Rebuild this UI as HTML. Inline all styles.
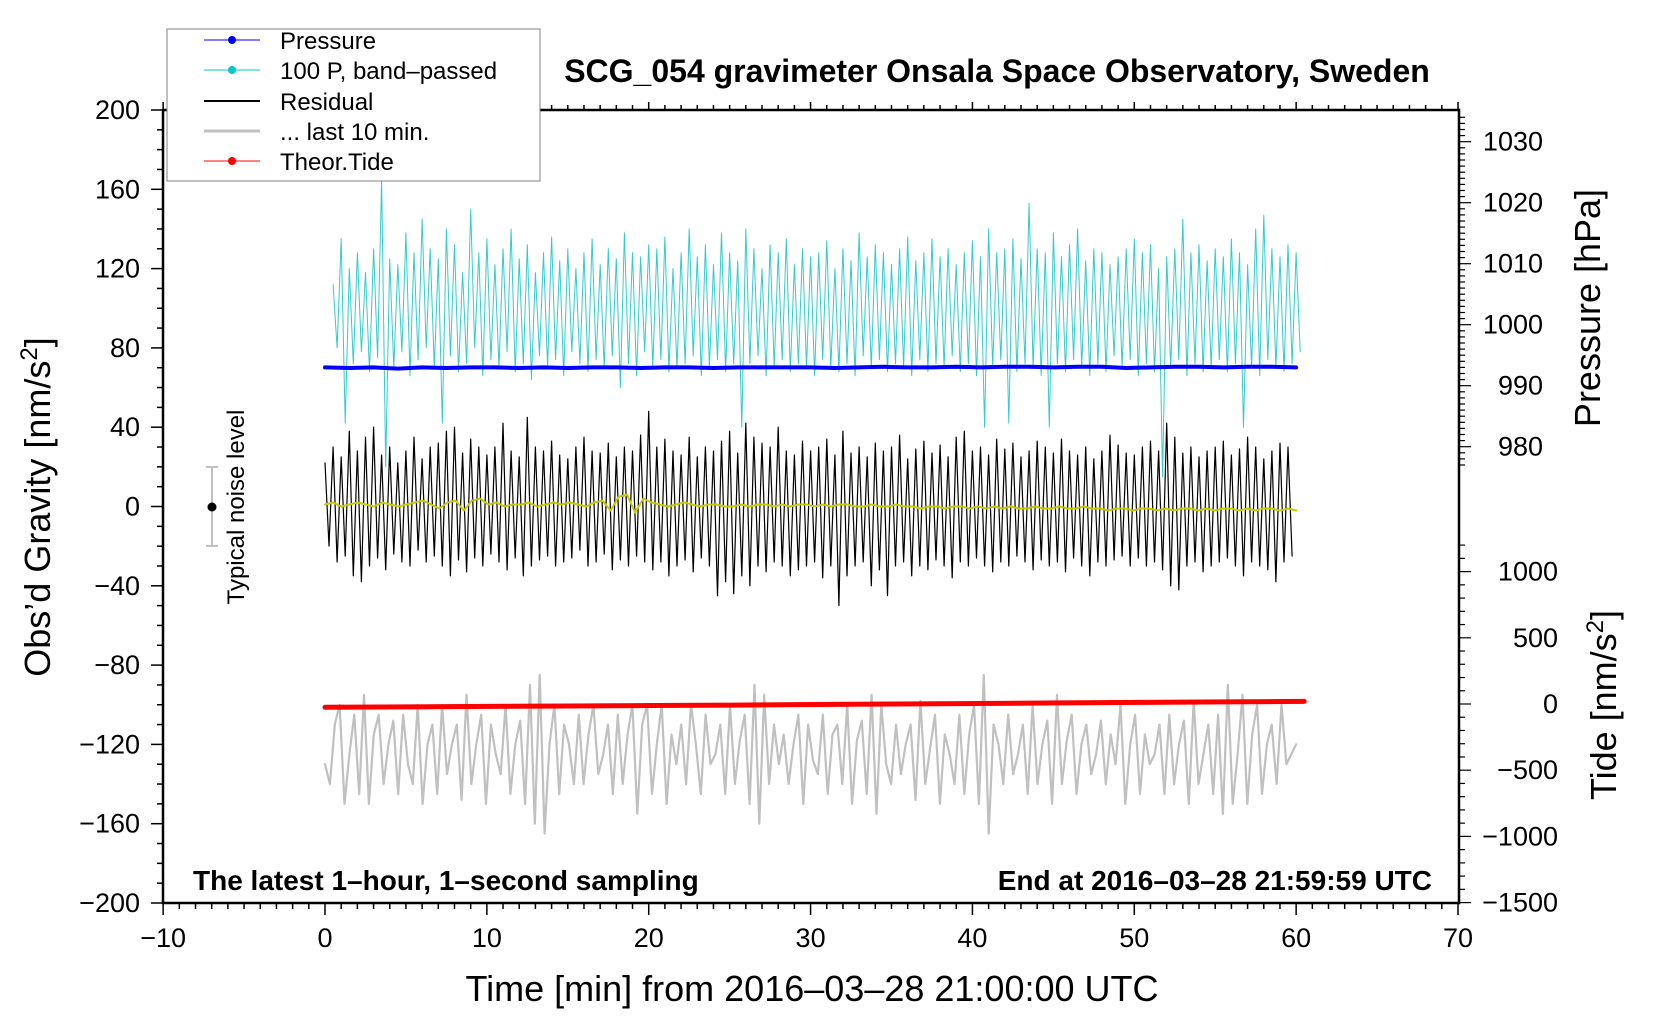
<!DOCTYPE html>
<html><head><meta charset="utf-8"><style>
html,body{margin:0;padding:0;background:#fff;}
svg{display:block;font-family:"Liberation Sans",Arial,sans-serif;}
</style></head><body>
<svg id="chart" width="1660" height="1020" viewBox="0 0 1660 1020" xmlns="http://www.w3.org/2000/svg">
<rect x="0" y="0" width="1660" height="1020" fill="#fff"/>
<g id="axes"></g>
<g id="series"></g>
<text x="997" y="82" font-size="32" font-weight="bold" text-anchor="middle">SCG_054 gravimeter Onsala Space Observatory, Sweden</text>
<text x="193" y="890" font-size="28" font-weight="bold">The latest 1–hour, 1–second sampling</text>
<text x="1432" y="890" font-size="28" font-weight="bold" text-anchor="end">End at 2016–03–28 21:59:59 UTC</text>
<text x="812" y="1001" font-size="36" text-anchor="middle">Time [min] from 2016–03–28 21:00:00 UTC</text>
<text transform="translate(50,507) rotate(-90)" font-size="36" text-anchor="middle">Obs’d Gravity [nm/s<tspan font-size="24" dy="-13">2</tspan><tspan dy="13">]</tspan></text>
<text transform="translate(1600,308) rotate(-90)" font-size="36" text-anchor="middle">Pressure [hPa]</text>
<text transform="translate(1616,705) rotate(-90)" font-size="36" text-anchor="middle">Tide [nm/s<tspan font-size="24" dy="-13">2</tspan><tspan dy="13">]</tspan></text>
<g>
<line x1="212" y1="467" x2="212" y2="546" stroke="#c0c0c0" stroke-width="2"/>
<line x1="206" y1="467" x2="218" y2="467" stroke="#c0c0c0" stroke-width="2"/>
<line x1="206" y1="546" x2="218" y2="546" stroke="#c0c0c0" stroke-width="2"/>
<circle cx="212" cy="507" r="4.5" fill="#000"/>
<text transform="translate(244,507) rotate(-90)" font-size="24" text-anchor="middle">Typical noise level</text>
</g>
<g>
<rect x="167" y="29" width="373" height="152" fill="#fff" stroke="#808080" stroke-width="1"/>
<g><line x1="204" y1="40" x2="260" y2="40" stroke="#0000ff" stroke-width="1"/><circle cx="232" cy="40" r="4" fill="#0000ff"/><text x="280" y="49" font-size="24">Pressure</text></g>
<g><line x1="204" y1="70" x2="260" y2="70" stroke="#00c8c8" stroke-width="1"/><circle cx="232" cy="70" r="4" fill="#00c8c8"/><text x="280" y="79" font-size="24">100 P, band–passed</text></g>
<g><line x1="204" y1="101" x2="260" y2="101" stroke="#000" stroke-width="2"/><text x="280" y="110" font-size="24">Residual</text></g>
<g><line x1="204" y1="131" x2="260" y2="131" stroke="#c0c0c0" stroke-width="3"/><text x="280" y="140" font-size="24">... last 10 min.</text></g>
<g><line x1="204" y1="161" x2="260" y2="161" stroke="#ff0000" stroke-width="1"/><circle cx="232" cy="161" r="4" fill="#ff0000"/><text x="280" y="170" font-size="24">Theor.Tide</text></g>
</g>
</svg>
<script>
const xTicks=[-10,0,10,20,30,40,50,60,70];
const gTicks=[200,160,120,80,40,0,-40,-80,-120,-160,-200];
const pTicks=[1030,1020,1010,1000,990,980];
const tTicks=[1000,500,0,-500,-1000,-1500];
const resHi=[22,30,25,38,28,35,40,26,30,22,28,35,24,30,32,38,40,27,34,30,26,30,42,28,25,45,30,28,33,26,24,30,35,28,27,32,25,30,28,36,48,30,34,28,26,35,25,30,28,33,38,27,42,35,32,30,40,28,26,33,28,30,34,26,38,27,30,25,32,28,30,36,24,29,33,27,31,25,35,38,28,30,26,34,29,32,25,28,33,30,27,34,28,26,30,24,28,36,31,27,26,30,33,28,42,35,27,30,25,28,30,33,26,29,35,30,24,28,32,30];
const resLo=[-20,-28,-25,-35,-38,-30,-26,-32,-24,-28,-30,-22,-28,-25,-30,-35,-27,-33,-26,-30,-24,-28,-32,-26,-35,-30,-27,-25,-30,-28,-26,-22,-30,-28,-24,-32,-27,-30,-25,-28,-32,-28,-35,-30,-27,-33,-26,-30,-45,-38,-44,-35,-40,-30,-33,-28,-30,-35,-32,-30,-28,-36,-30,-50,-35,-30,-28,-40,-32,-45,-30,-28,-35,-30,-32,-27,-30,-36,-28,-30,-26,-30,-33,-28,-30,-25,-28,-32,-27,-30,-28,-33,-26,-30,-35,-28,-30,-27,-25,-30,-26,-30,-28,-32,-40,-42,-30,-28,-33,-30,-28,-26,-30,-35,-28,-30,-32,-38,-28,-25];
const cyanHi=[112,135,120,128,118,130,165,125,122,138,128,145,130,125,140,132,118,150,128,135,122,130,140,125,132,118,128,136,124,130,120,128,135,122,130,125,138,128,126,132,130,136,120,128,140,126,132,122,138,128,124,140,130,120,132,128,135,122,130,126,128,134,120,130,124,138,126,132,128,122,130,136,124,128,135,126,130,122,128,134,126,140,128,130,135,125,153,130,128,138,126,132,140,124,130,128,122,126,130,135,128,132,120,126,130,145,128,132,124,130,126,135,128,122,140,147,130,126,132,128];
const cyanLo=[80,42,72,78,68,75,20,70,78,66,74,80,70,42,76,68,72,80,66,74,70,78,68,72,64,76,70,74,66,78,72,68,74,70,76,60,72,66,78,70,74,68,70,72,76,66,70,74,68,72,40,72,76,66,70,74,68,72,70,66,74,70,68,72,66,76,70,74,68,72,70,66,74,68,72,70,76,68,72,66,40,70,74,42,68,72,70,66,40,72,68,74,70,66,72,68,76,70,74,66,72,68,15,70,74,66,72,68,70,74,68,72,40,70,66,74,70,68,72,78];
const gray=[-130,-140,-110,-100,-150,-125,-105,-145,-95,-150,-115,-105,-140,-120,-108,-145,-105,-130,-140,-100,-150,-120,-110,-145,-100,-135,-120,-110,-148,-95,-140,-120,-105,-150,-110,-125,-135,-100,-145,-120,-108,-150,-90,-160,-85,-165,-120,-100,-145,-110,-120,-140,-105,-140,-115,-100,-135,-125,-110,-145,-105,-140,-115,-100,-155,-110,-100,-145,-120,-100,-150,-115,-130,-110,-140,-100,-120,-145,-105,-130,-125,-110,-145,-100,-140,-118,-105,-150,-90,-160,-95,-140,-110,-130,-115,-140,-120,-105,-150,-110,-128,-135,-105,-145,-115,-110,-140,-100,-150,-118,-108,-145,-95,-155,-100,-130,-140,-110,-135,-120,-110,-148,-98,-140,-122,-105,-150,-115,-125,-140,-105,-145,-115,-100,-150,-85,-165,-110,-120,-140,-105,-135,-125,-110,-145,-100,-140,-120,-108,-150,-95,-140,-118,-105,-145,-120,-110,-135,-125,-108,-140,-115,-130,-100,-150,-120,-105,-145,-115,-130,-125,-110,-145,-105,-140,-120,-108,-150,-98,-140,-125,-110,-145,-105,-155,-90,-150,-125,-95,-150,-115,-100,-145,-120,-110,-140,-100,-130,-125,-120];
const yellow=[1,2,0,1,2,1,0,2,1,0,1,2,3,1,-1,2,3,-2,3,4,1,2,0,1,1,2,0,1,2,1,2,1,0,2,3,-2,5,6,-3,4,2,1,0,1,2,1,0,1,1,0,0,1,0,1,1,0,1,0,1,1,0,1,0,1,1,0,0,1,0,0,1,0,0,-1,0,0,-1,0,0,-1,0,-1,0,-1,0,-1,-1,0,-1,-1,0,-1,-1,0,-1,-1,-2,-1,-1,-2,-1,-1,-2,-1,-2,-1,-1,-2,-1,-2,-1,-1,-2,-1,-2,-1,-1,-2,-1,-2];
const pressure=[993.0,992.9,993.0,992.8,993.0,992.9,993.0,993.0,992.9,993.0,992.9,993.0,993.0,992.9,993.0,993.0,992.9,993.0,993.0,993.0,993.0,992.9,993.0,993.1,993.0,993.0,993.1,993.0,993.1,993.1,993.0,993.1,993.1,992.9,993.0,993.1,993.1,993.0,993.1,993.1,993.0];
const tide=[-25,-22,-18,-15,-11,-8,-4,0,4,8,12,16,20];

const X=v=>325+(v-0)*(1458-325)/70;
const YG=v=>506.5-v*(793/400);
const YP=v=>141.7+(1030-v)*6.1;
const YT=v=>704-v*(331/2500);
const NS='http://www.w3.org/2000/svg';
const ax=document.getElementById('axes'), se=document.getElementById('series');
function mk(tag,attrs,parent){const e=document.createElementNS(NS,tag);for(const k in attrs)e.setAttribute(k,attrs[k]);parent.appendChild(e);return e;}
function ln(x1,y1,x2,y2,w){return mk('line',{x1,y1,x2,y2,stroke:'#000','stroke-width':w},ax);}
const L=163,R=1459,T=110,B=903;
const frame=mk('rect',{x:L,y:T,width:R-L,height:B-T,fill:'none',stroke:'#000','stroke-width':2.5},ax);


for(let m=-10;m<=70;m++){const x=X(m);const maj=m%10===0;ln(x,B,x,B+(maj?12:6),1.5);ln(x,T,x,T-(maj?8:5),1.5);}
xTicks.forEach(v=>{const t=mk('text',{x:X(v),y:947,'font-size':27,'text-anchor':'middle'},ax);t.textContent=String(v).replace('-','−');

});
for(let g=-200;g<=200;g+=10){const y=YG(g);const maj=g%40===0;ln(maj?151:157,y,L,y,1.5);}
gTicks.forEach(v=>{const t=mk('text',{x:140,y:YG(v)+9,'font-size':27,'text-anchor':'end'},ax);t.textContent=String(v).replace('-','−');

});
for(let p=1034;p>=976;p--){const y=YP(p);if(y<T||y>470)continue;const maj=p%10===0;ln(R,y,R+(maj?12:6),y,1.2);}
pTicks.forEach(v=>{const t=mk('text',{x:1543,y:YP(v)+9,'font-size':27,'text-anchor':'end'},ax);t.textContent=v;

});
for(let v=1300;v>=-1500;v-=100){const y=YT(v);if(y<535)continue;const maj=v%500===0;ln(R,y,R+(maj?12:6),y,1.2);}
tTicks.forEach(v=>{const t=mk('text',{x:1558,y:YT(v)+9,'font-size':27,'text-anchor':'end'},ax);t.textContent=String(v).replace('-','−');

});

function poly(pts,color,w,name){const p=mk('polyline',{points:pts.map(q=>q[0].toFixed(1)+','+q[1].toFixed(1)).join(' '),fill:'none',stroke:color,'stroke-width':w,'stroke-linejoin':'round','stroke-linecap':'round'},se);

return p;}
{const pts=[];cyanHi.forEach((h,i)=>{const x=0.5+i*0.5;pts.push([X(x),YG(h)]);pts.push([X(x+0.25),YG(cyanLo[i])]);});poly(pts,'#33cccc',1,'bandpassed-pressure-line');}
poly(pressure.map((v,i)=>[X(i*60/(pressure.length-1)),YP(v)]),'#0000ff',4,'pressure-line');
{const pts=[];resHi.forEach((h,i)=>{const x=i*0.5;pts.push([X(x),YG(h)]);pts.push([X(x+0.25),YG(resLo[i])]);});poly(pts,'#000',1.2,'residual-line');}
poly(yellow.map((v,i)=>[X(i*60/(yellow.length-1)),YG(v)]),'#c8c800',2,'residual-smoothed-line');
poly(gray.map((v,i)=>[X(i*60/(gray.length-1)),YG(v)]),'#c0c0c0',2.2,'last-10-min-line');
poly(tide.map((v,i)=>[X(i*60.5/(tide.length-1)),YT(v)]),'#ff0000',5,'theoretical-tide-line');
</script>
</body></html>
